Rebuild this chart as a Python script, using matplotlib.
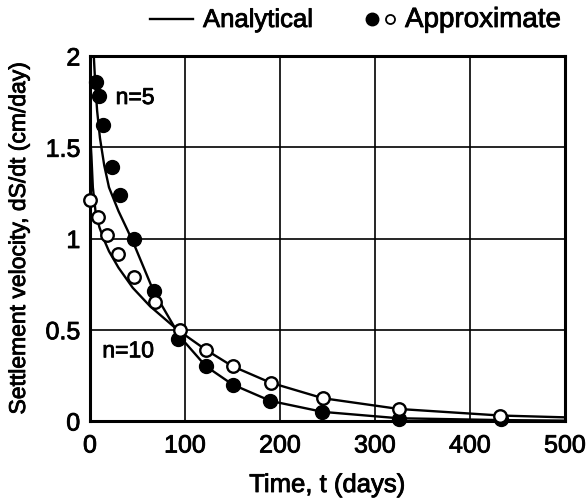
import matplotlib
matplotlib.use("Agg")
import matplotlib.pyplot as plt
from matplotlib.lines import Line2D
import matplotlib.patheffects as pe

plt.rcParams['font.family'] = ['Liberation Sans', 'DejaVu Sans']

# Analytical curves
t_an5 = [4, 5.5, 7.5, 10.5, 15, 20, 30, 40, 47, 67, 95, 122, 150, 190, 245, 325, 433, 500]
v_an5 = [2.0, 1.85, 1.70, 1.55, 1.40, 1.28, 1.15, 1.04, 0.96, 0.71, 0.46, 0.30, 0.20, 0.11, 0.05, 0.015, 0.005, 0.002]
t_an10 = [0, 1.5, 3, 6, 10, 15, 20, 30, 45, 63, 92, 122, 150, 190, 245, 325, 432, 500]
v_an10 = [1.58, 1.45, 1.28, 1.14, 1.06, 0.99, 0.93, 0.84, 0.73, 0.63, 0.50, 0.39, 0.30, 0.21, 0.125, 0.066, 0.03, 0.02]

# Approximate points
t_ap5 = [6, 9.5, 14, 23.5, 32, 46.5, 67, 93, 122, 150, 189, 244, 325, 433]
v_ap5 = [1.855, 1.78, 1.62, 1.39, 1.24, 1.0, 0.71, 0.45, 0.30, 0.20, 0.11, 0.05, 0.012, 0.01]
t_ap10 = [0, 8, 18, 29.5, 46, 68, 95, 122, 150, 190, 245, 325, 432]
v_ap10 = [1.21, 1.12, 1.02, 0.915, 0.79, 0.65, 0.50, 0.39, 0.30, 0.21, 0.125, 0.066, 0.03]

x_ticks = [0, 100, 200, 300, 400, 500]
y_ticks = [0, 0.5, 1, 1.5, 2]
y_ticklabels = ['0', '0.5', '1', '1.5', '2']

heavy = [pe.withStroke(linewidth=0.6, foreground='black')]

fig = plt.figure(figsize=(5.87, 5.02), dpi=100)
ax = fig.add_axes([90/587, 1-422/502, 475/587, 365/502])

ax.plot(t_an5, v_an5, color='black', lw=1.7, zorder=3)
ax.plot(t_an10, v_an10, color='black', lw=1.7, zorder=3)
ax.plot(t_ap5, v_ap5, 'o', color='black', ms=10, zorder=4, clip_on=False)
ax.plot(t_ap10, v_ap10, 'o', mfc='white', mec='black', mew=1.7, ms=9, zorder=5, clip_on=False)

ax.set_xlim(0, 500)
ax.set_ylim(0, 2)
ax.set_xticks(x_ticks)
ax.set_yticks(y_ticks)
ax.set_yticklabels(y_ticklabels)
ax.grid(True, color='black', lw=1.2)
ax.set_axisbelow(True)
ax.tick_params(length=0, labelsize=18)
ax.tick_params(axis='x', pad=9)
ax.tick_params(axis='y', pad=7)
for lab in ax.get_xticklabels() + ax.get_yticklabels():
    lab.set_path_effects(heavy)
for s in ax.spines.values():
    s.set_linewidth(2.2)

xl = ax.set_xlabel('Time, t (days)', fontsize=18.5, va='top')
ax.xaxis.set_label_coords(0.5, (422-474)/365)
yl = ax.set_ylabel('Settlement velocity, dS/dt (cm/day)', fontsize=16.5)
ax.yaxis.set_label_coords((30-90)/475, 0.5)
xl.set_path_effects(heavy)
yl.set_path_effects(heavy)

t1 = ax.text(27, 1.737, 'n=5', fontsize=16.5, va='baseline', ha='left')
t2 = ax.text(13, 0.349, 'n=10', fontsize=16.5, va='baseline', ha='left')
t1.set_path_effects(heavy)
t2.set_path_effects(heavy)

# Legend at top
ly = 1 - 20/502
fig.add_artist(Line2D([150/587, 193/587], [ly, ly], color='black', lw=1.7))
a = fig.text(203/587, 1-28/502, 'Analytical', fontsize=18.5, va='baseline', ha='left')
fig.add_artist(Line2D([372/587], [ly], marker='o', color='black', ms=9, ls='none'))
fig.add_artist(Line2D([390/587], [ly], marker='o', mfc='white', mec='black', mew=1.3, ms=6.5, ls='none'))
b = fig.text(405/587, 1-28/502, 'Approximate', fontsize=20, va='baseline', ha='left')
a.set_path_effects(heavy)
b.set_path_effects(heavy)

fig.savefig('out.png', dpi=100)
